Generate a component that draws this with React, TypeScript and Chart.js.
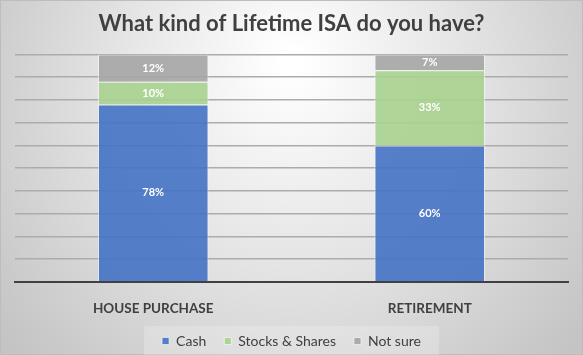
import React, { useEffect, useRef } from "react";
import { Chart, registerables } from "chart.js";

Chart.register(...registerables);

const categories = ["HOUSE PURCHASE", "RETIREMENT"];
const cashValues = [78, 60];
const stocksValues = [10, 33];
const notSureValues = [12, 7];
const seriesNames = ["Cash", "Stocks & Shares", "Not sure"];
const yTicks = [0, 10, 20, 30, 40, 50, 60, 70, 80, 90, 100];

const FONT = "Lato, 'Liberation Sans', sans-serif";

const bgPlugin = {
  id: "bgPlugin",
  beforeDraw(chart: any) {
    const { ctx, width, height } = chart;
    ctx.save();
    const g = ctx.createRadialGradient(width / 2, 60, 10, width / 2, 120, 360);
    g.addColorStop(0, "#ffffff");
    g.addColorStop(0.45, "#e6e6e6");
    g.addColorStop(1, "#c4c4c4");
    ctx.fillStyle = g;
    ctx.fillRect(0, 0, width, height);
    ctx.strokeStyle = "#bdbdbd";
    ctx.lineWidth = 1;
    ctx.strokeRect(0.5, 0.5, width - 1, height - 1);
    const lg = chart.legend;
    if (lg && lg.legendHitBoxes && lg.legendHitBoxes.length) {
      const boxes = lg.legendHitBoxes;
      let l = Infinity, r = -Infinity, t = Infinity, b = -Infinity;
      boxes.forEach((h: any) => {
        l = Math.min(l, h.left);
        r = Math.max(r, h.left + h.width);
        t = Math.min(t, h.top);
        b = Math.max(b, h.top + h.height);
      });
      ctx.fillStyle = "rgba(255,255,255,0.22)";
      ctx.fillRect(l - 18, t - 8, r - l + 36, b - t + 16);
    }
    ctx.restore();
  },
};

const labelPlugin = {
  id: "labelPlugin",
  afterDatasetsDraw(chart: any) {
    const { ctx } = chart;
    ctx.save();
    ctx.fillStyle = "#ffffff";
    ctx.font = `bold 11px ${FONT}`;
    ctx.textAlign = "center";
    ctx.textBaseline = "middle";
    chart.data.datasets.forEach((ds: any, i: number) => {
      const meta = chart.getDatasetMeta(i);
      meta.data.forEach((el: any, j: number) => {
        const v = ds.data[j];
        const cy = (el.y + el.base) / 2;
        ctx.fillText(`${v}%`, el.x, cy);
      });
    });
    ctx.restore();
  },
};

export default function App() {
  const ref = useRef<HTMLCanvasElement>(null);
  useEffect(() => {
    document.body.style.margin = "0";
    const canvas = ref.current!;
    const mk = (label: string, data: number[], color: string) => ({
      label,
      data,
      backgroundColor: color,
      borderColor: "rgba(255,255,255,0.6)",
      borderWidth: 1,
      barPercentage: 0.4,
      categoryPercentage: 1,
    });
    const chart = new Chart(canvas, {
      type: "bar",
      data: {
        labels: categories,
        datasets: [
          mk(seriesNames[0], cashValues, "rgba(68,114,196,0.9)"),
          mk(seriesNames[1], stocksValues, "rgba(169,209,142,0.9)"),
          mk(seriesNames[2], notSureValues, "rgba(165,165,165,0.9)"),
        ],
      },
      options: {
        responsive: false,
        animation: false,
        layout: { padding: { top: 11, left: 15, right: 15, bottom: -3 } },
        scales: {
          x: {
            stacked: true,
            grid: { display: false },
            border: { color: "#404040", width: 2 },
            ticks: {
              color: "#404040",
              font: { family: FONT, size: 13.5, weight: "bold" },
              padding: 11,
            },
            afterFit: (scale: any) => {
              scale.height = 34;
            },
          },
          y: {
            stacked: true,
            min: 0,
            max: 100,
            afterBuildTicks: (axis: any) => {
              axis.ticks = yTicks.map((v) => ({ value: v }));
            },
            ticks: { display: false },
            grid: { color: "#acacac", lineWidth: 1.5, drawTicks: false },
            border: { display: false },
          },
        },
        plugins: {
          title: {
            display: true,
            text: "What kind of Lifetime ISA do you have?",
            color: "#404040",
            font: { family: FONT, size: 22, weight: "bold" },
            padding: { top: 0, bottom: 17 },
          },
          legend: {
            position: "bottom",
            labels: {
              boxWidth: 7,
              boxHeight: 7,
              color: "#404040",
              font: { family: FONT, size: 14 },
              padding: 18,
            },
          },
          tooltip: { enabled: false },
        },
      },
      plugins: [bgPlugin, labelPlugin],
    } as any);
    return () => chart.destroy();
  }, []);
  return (
    <div style={{ width: 583, height: 355 }}>
      <canvas ref={ref} width={583} height={355} />
    </div>
  );
}
